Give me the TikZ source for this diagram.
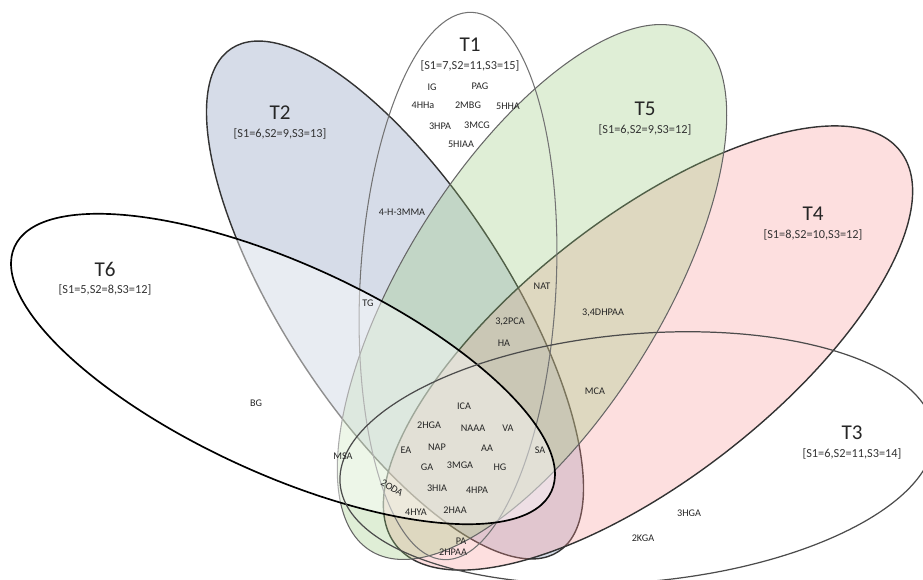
\documentclass[tikz,border=0pt]{standalone}
\usepackage{fontspec}
\setmainfont{Carlito}
\usetikzlibrary{calc}
\definecolor{setblue}{RGB}{120,140,180}
\definecolor{setgreen}{RGB}{150,200,120}
\definecolor{setpink}{RGB}{250,150,150}
\tikzset{
	set line/.style={line width=0.8pt, draw=black!80},
	elem/.style={font=\fontsize{5.8}{6.5}\selectfont, text=black!85, inner sep=0pt},
	set title/.style={font=\fontsize{12}{14}\selectfont, text=black!85, inner sep=0pt},
	set sizes/.style={font=\fontsize{7}{8}\selectfont, text=black!80, inner sep=0pt}
}
\newcommand{\setellipse}[5]{
	\draw[#1, rotate around={#3:#2}] #2 ellipse (#4 and #5);
}
\newcommand{\settitle}[4]{
	\node[set title] (#1) at #2 {#3};
	\node[set sizes] (#1s) at ($ #2 + (0,-21) $) {#4};
}

\begin{document}
\begin{tikzpicture}[x=0.02cm, y=0.02cm]
	\useasboundingbox (0,0) rectangle (923,579);
%
	\setellipse{set line, fill=setblue, fill opacity=0.3}{(395,279)}{-57}{300}{112}
	\setellipse{set line, fill=setpink, fill opacity=0.3}{(648,231)}{38}{320}{130}
	\setellipse{set line, draw=black!60, line width=0.6pt, fill=setgreen, fill opacity=0.3}{(532,287)}{58}{305}{128}
	\setellipse{set line, draw=black!55, line width=0.6pt}{(458,293)}{-3}{98}{274}
	\setellipse{set line, draw=black, line width=0.95pt, fill=white, fill opacity=0.45}{(283,210)}{-24.5}{295}{105}
	\setellipse{set line, draw=black!70, line width=0.7pt}{(637,121)}{5}{298}{124}
%
	\settitle{t1}{(470,534)}{T1}{[S1=7,S2=11,S3=15]}
	\settitle{t2}{(280,466)}{T2}{[S1=6,S2=9,S3=13]}
	\settitle{t3}{(852,146)}{T3}{[S1=6,S2=11,S3=14]}
	\settitle{t4}{(813,365)}{T4}{[S1=8,S2=10,S3=12]}
	\settitle{t5}{(645,470)}{T5}{[S1=6,S2=9,S3=12]}
	\settitle{t6}{(105,310)}{T6}{[S1=5,S2=8,S3=12]}
%
	\node[elem] (ig) at (432,492) {IG};
	\node[elem] (pag) at (480,493) {PAG};
	\node[elem] (hhaa) at (423,474) {4HHa};
	\node[elem] (mbg) at (468,474) {2MBG};
	\node[elem] (hhab) at (508,473) {5HHA};
	\node[elem] (hpa) at (440,453) {3HPA};
	\node[elem] (mcg) at (477,454) {3MCG};
	\node[elem] (hiaa) at (461,435) {5HIAA};
	\node[elem] (hmma) at (402,367) {4-H-3MMA};
	\node[elem] (nat) at (542,293) {NAT};
	\node[elem] (dhpaa) at (603,266) {3,4DHPAA};
	\node[elem] (pca) at (510,257) {3,2PCA};
	\node[elem] (ha) at (504,236) {HA};
	\node[elem] (tg) at (368,276) {TG};
	\node[elem] (mca) at (595,188) {MCA};
	\node[elem] (bg) at (256,176) {BG};
	\node[elem] (msa) at (343,123) {MSA};
	\node[elem] (ica) at (464,173) {ICA};
	\node[elem] (hga) at (429,154) {2HGA};
	\node[elem] (naaa) at (473,151) {NAAA};
	\node[elem] (va) at (508,151) {VA};
	\node[elem] (ea) at (406,129) {EA};
	\node[elem] (nap) at (437,132) {NAP};
	\node[elem] (aa) at (487,131) {AA};
	\node[elem] (ga) at (427,112) {GA};
	\node[elem] (mga) at (460,114) {3MGA};
	\node[elem] (hg) at (500,112) {HG};
	\node[elem] (sa) at (540,129) {SA};
	\node[elem, rotate=-32] (oda) at (392,91) {2ODA};
	\node[elem] (hia) at (437,91) {3HIA};
	\node[elem] (hpab) at (477,89) {4HPA};
	\node[elem] (hya) at (416,67) {4HYA};
	\node[elem] (haa) at (455,69) {2HAA};
	\node[elem] (pa) at (461,38) {PA};
	\node[elem] (hpaa) at (453,27) {2HPAA};
	\node[elem] (hgab) at (689,66) {3HGA};
	\node[elem] (kga) at (643,41) {2KGA};
\end{tikzpicture}
\end{document}
